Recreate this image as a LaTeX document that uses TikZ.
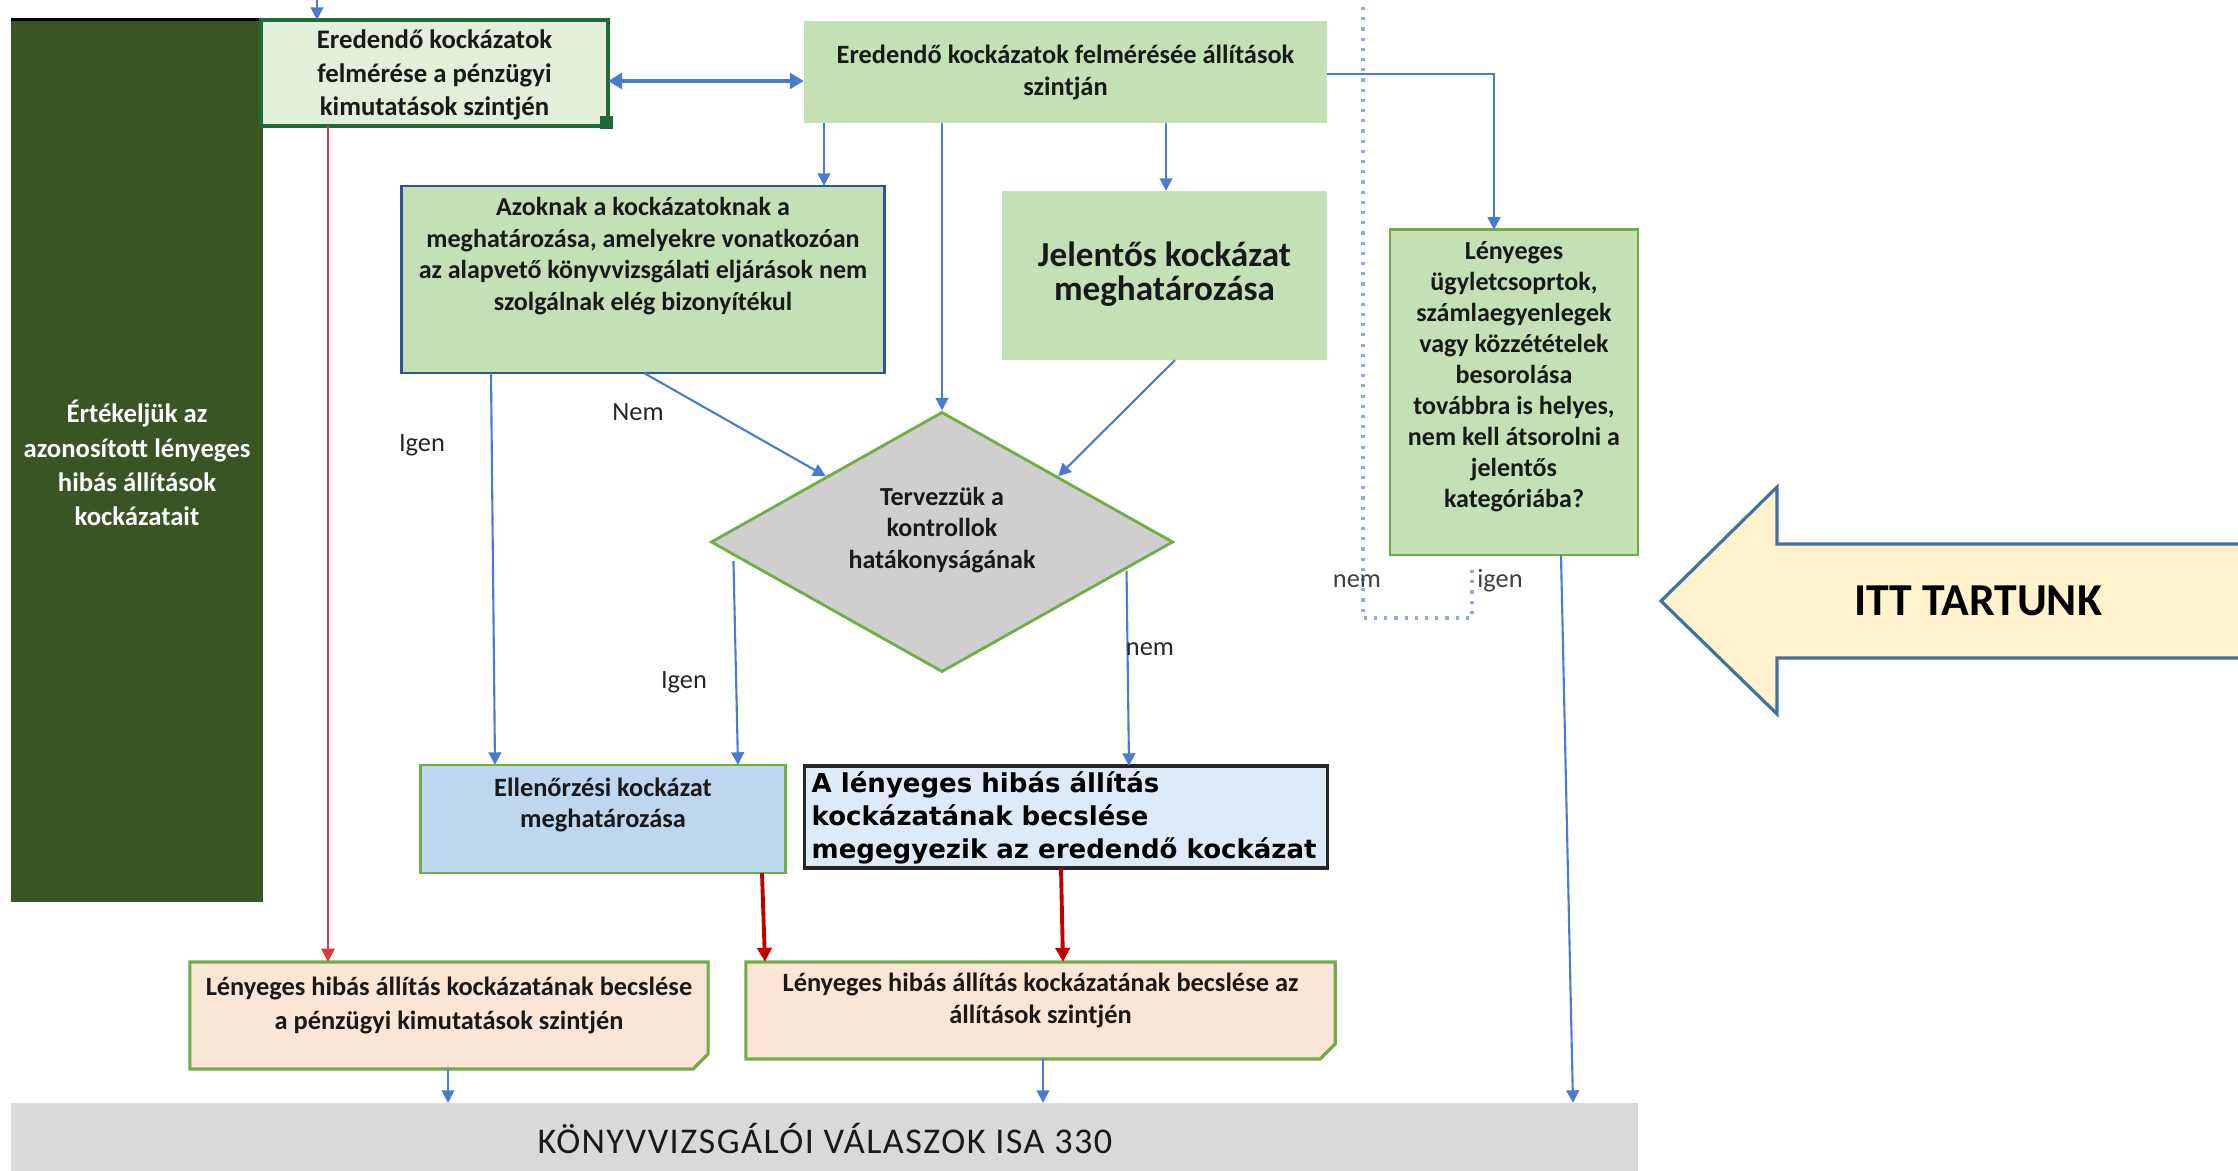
\documentclass[tikz,border=0pt]{standalone}
\usepackage{fontspec}
\setmainfont{Carlito}
\newfontfamily\boxfont{DejaVu Sans}
\newfontfamily\barfont[LetterSpace=4]{Carlito}
\usetikzlibrary{shapes.geometric,arrows.meta,calc}

\definecolor{panelgreen}{HTML}{3A5424}
\definecolor{lgreen}{HTML}{C5E0B4}
\definecolor{pgreen}{HTML}{E2EFDA}
\definecolor{dgreen}{HTML}{1E6B3A}
\definecolor{mgreen}{HTML}{70AD47}
\definecolor{arrblue}{HTML}{4A7BD0}
\definecolor{dblue}{HTML}{2F5597}
\definecolor{redarr}{HTML}{C00000}
\definecolor{thinred}{HTML}{D63A3A}
\definecolor{diagray}{HTML}{D0CECE}
\definecolor{lblue}{HTML}{BDD7EE}
\definecolor{llblue}{HTML}{DEEBF7}
\definecolor{peach}{HTML}{FBE5D6}
\definecolor{peachdark}{HTML}{E8CDB9}
\definecolor{bargray}{HTML}{D9D9D9}
\definecolor{cream}{HTML}{FFF2CC}
\definecolor{arrowedge}{HTML}{41719C}
\definecolor{dotblue}{HTML}{8FAADC}

\begin{document}
\begin{tikzpicture}[x=0.01cm,y=-0.01cm,
  box/.style={rectangle, inner sep=0pt, outer sep=0pt},
  txt/.style={align=center, inner sep=0pt, text=black!90,
    font=\bfseries\fontsize{7.5}{9.3}\selectfont},
  arr/.style={draw=arrblue, line width=0.6pt, -{Triangle[length=3.6pt,width=3.6pt]}},
  redar/.style={draw=redarr, line width=1.1pt, -{Triangle[length=4pt,width=4pt]}},
  lbl/.style={inner sep=0pt, text=black!85, font=\fontsize{7.5}{9}\selectfont},
]
\useasboundingbox (0,0) rectangle (2238,1171);

% left panel
\node[box, fill=panelgreen, minimum width=2.52cm, minimum height=8.82cm] (panel) at (137,461) {};
\draw[black, line width=1pt] (panel.north west) -- (panel.north east);
\node[txt, text=white, font=\bfseries\fontsize{7.6}{9.7}\selectfont] (paneltxt) at (137,463)
  {Értékeljük az\\azonosított lényeges\\hibás állítások\\kockázatait};

% top row
\node[box, fill=pgreen, draw=dgreen, line width=1.1pt, minimum width=3.47cm, minimum height=1.06cm] (A) at (434.5,73) {};
\fill[dgreen] (600,116) rectangle (613,129);
\node[txt, font=\bfseries\fontsize{7.6}{9.6}\selectfont] (Atxt) at (434.5,75)
  {Eredendő kockázatok\\felmérése a pénzügyi\\kimutatások szintjén};

\node[box, fill=lgreen, minimum width=5.23cm, minimum height=1.02cm] (B) at (1065.5,72) {};
\node[txt, font=\bfseries\fontsize{7.5}{9.1}\selectfont] (Btxt) at (1065.5,72)
  {Eredendő kockázatok felmérésée állítások\\szintján};

% second row
\node[box, fill=lgreen, draw=dblue, line width=0.8pt, minimum width=4.82cm, minimum height=1.87cm] (C) at (643,279.5) {};
\node[txt, font=\bfseries\fontsize{7.4}{9}\selectfont] (Ctxt) at (643,256)
  {Azoknak a kockázatoknak a\\meghatározása, amelyekre vonatkozóan\\az alapvető könyvvizsgálati eljárások nem\\szolgálnak elég bizonyítékul};

\node[box, fill=lgreen, minimum width=3.25cm, minimum height=1.69cm] (D) at (1164.5,275.5) {};
\node[txt, font=\bfseries\fontsize{10}{9.7}\selectfont] (Dtxt) at (1164.5,274)
  {Jelentős kockázat\\meghatározása};

\node[box, fill=lgreen, draw=mgreen, line width=0.8pt, minimum width=2.48cm, minimum height=3.25cm] (G) at (1514,392.5) {};
\node[txt, font=\bfseries\fontsize{7.4}{8.8}\selectfont] (Gtxt) at (1514,377)
  {Lényeges\\ügyletcsoprtok,\\számlaegyenlegek\\vagy közzétételek\\besorolása\\továbbra is helyes,\\nem kell átsorolni a\\jelentős\\kategóriába?};

% decision
\node[diamond, fill=diagray, draw=mgreen, line width=0.8pt, inner sep=0pt,
  minimum width=4.62cm, minimum height=2.60cm] (dia) at (942,542) {};
\node[txt, font=\bfseries\fontsize{7.4}{9}\selectfont] (diatxt) at (942,530)
  {Tervezzük a\\kontrollok\\hatákonyságának};

% third row
\node[box, fill=lblue, draw=mgreen, line width=0.8pt, minimum width=3.64cm, minimum height=1.08cm] (E) at (603,819) {};
\node[txt, font=\bfseries\fontsize{7.5}{9}\selectfont] (Etxt) at (603,805)
  {Ellenőrzési kockázat\\meghatározása};

\node[box, fill=llblue, draw=black!85, line width=0.9pt, minimum width=5.22cm, minimum height=1.02cm] (F) at (1066,817) {};
\node[anchor=west, align=left, inner sep=0pt, text=black,
  font=\boxfont\bfseries\fontsize{7.4}{9.4}\selectfont] (Ftxt) at (811,818)
  {A lényeges hibás állítás\\kockázatának becslése\\megegyezik az eredendő kockázat};

% estimates (folded-corner notes)
\node[box, minimum width=5.18cm, minimum height=1.07cm] (H) at (449,1015.5) {};
\node[box, minimum width=5.89cm, minimum height=0.97cm] (I) at (1040.5,1010.5) {};
\foreach \n in {H,I}{
  \filldraw[fill=peach, draw=mgreen, line width=0.9pt]
    (\n.north west) -- (\n.north east) -- ([yshift=0.15cm]\n.south east)
    -- ([xshift=-0.15cm]\n.south east) -- (\n.south west) -- cycle;
  \filldraw[fill=peachdark, draw=mgreen, line width=0.6pt]
    ([yshift=0.15cm]\n.south east) -- ([xshift=-0.15cm]\n.south east)
    -- ([xshift=-0.11cm,yshift=0.05cm]\n.south east) -- cycle;
}
\node[txt, font=\bfseries\fontsize{7.5}{9.4}\selectfont] (Htxt) at (449,1005.5)
  {Lényeges hibás állítás kockázatának becslése\\a pénzügyi kimutatások szintjén};
\node[txt, font=\bfseries\fontsize{7.5}{8.9}\selectfont] (Itxt) at (1040.5,1000.5)
  {Lényeges hibás állítás kockázatának becslése az\\állítások szintjén};

% bottom bar
\node[box, fill=bargray, minimum width=16.27cm, minimum height=0.68cm] (bar) at (824.5,1137) {};
\node[inner sep=0pt, text=black!90, font=\barfont\fontsize{10.3}{12}\selectfont] (bartxt) at (825,1139)
  {KÖNYVVIZSGÁLÓI VÁLASZOK ISA 330};

% pointer arrow
\filldraw[fill=cream, draw=arrowedge, line width=0.9pt]
  (1661,601) -- (1777,487) -- (1777,544) -- (2240,544) -- (2240,658)
  -- (1777,658) -- (1777,714) -- cycle;
\node[inner sep=0pt, font=\bfseries\fontsize{13}{15}\selectfont] (itt) at (1978,601) {ITT TARTUNK};

% connectors
\coordinate (topin) at (317,0);
\draw[arr] (topin) -- (topin |- A.north);
\draw[draw=arrblue, line width=1.3pt, {Triangle[length=4pt,width=4.5pt]}-{Triangle[length=4pt,width=4.5pt]}]
  (A.east |- 0,81) -- (B.west |- 0,81);
\draw[arr] (B.south -| 824,0) -- (C.north -| 824,0);
\draw[arr] (B.south -| 942,0) -- (dia.north);
\draw[arr] (B.south -| 1166,0) -- (D.north -| 1166,0);
\draw[arr] (B.east |- 0,74) -| (G.north -| 1494,0);

\draw[arr] (C.south -| 644,0) -- (dia.north west);
\node[lbl] (lnem1) at (638,412) {Nem};
\draw[arr] (D.south -| 1175,0) -- (dia.north east);

\draw[arr] (C.south -| 491,0) -- (E.north -| 495,0);
\node[lbl] (ligen1) at (422,445) {Igen};
\draw[arr] ($(dia.west)+(24,19)$) -- (E.north -| 738,0);
\node[lbl] (ligen2) at (684,682) {Igen};
\draw[arr] ($(dia.east)+(-48,29)$) -- (F.north -| 1129,0);
\node[lbl] (lnem2) at (1150,649) {nem};

% classification check loop
\coordinate (dtop) at (1363,7);
\coordinate (dend) at (1472,564);
\draw[dotblue, dotted, line width=0.9pt] (dtop) -- (1363,618) -| (dend);
\node[lbl, text=black!75] (lnem3) at (1357,581) {nem};
\node[lbl, text=black!75] (ligen3) at (1500,581) {igen};
\draw[arr] (G.south -| 1561,0) -- (bar.north -| 1573,0);

% estimates feeding in
\draw[draw=thinred, line width=0.7pt, -{Triangle[length=3.8pt,width=3.8pt]}] (A.south -| 328,0) -- (H.north -| 328,0);
\draw[redar] (E.south -| 762,0) -- (I.north -| 765,0);
\draw[redar] (F.south -| 1061,0) -- (I.north -| 1063,0);

\draw[arr] (H.south -| 448,0) -- (bar.north -| 448,0);
\draw[arr] (I.south -| 1043,0) -- (bar.north -| 1043,0);
\end{tikzpicture}
\end{document}
